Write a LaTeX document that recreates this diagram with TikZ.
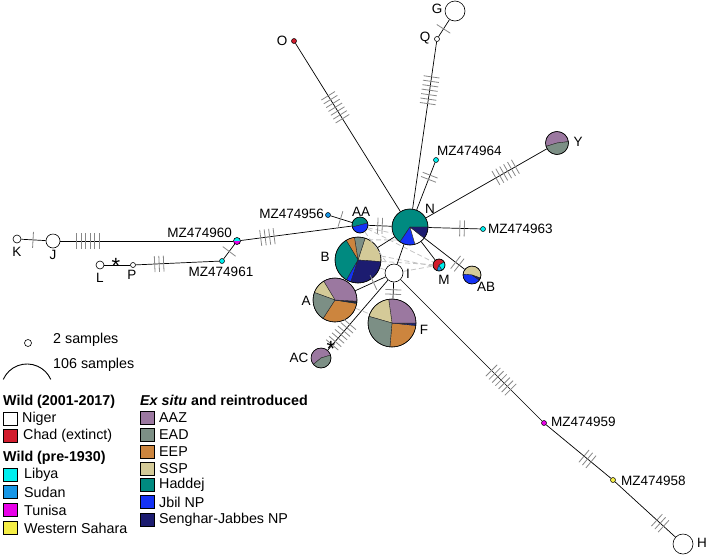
\documentclass[tikz,border=0pt]{standalone}
\usepackage{fontspec}
\setmainfont{Liberation Sans}
\usetikzlibrary{decorations.markings}
\definecolor{cAAZ}{RGB}{155,120,160}
\definecolor{cEAD}{RGB}{124,143,133}
\definecolor{cEEP}{RGB}{204,133,62}
\definecolor{cSSP}{RGB}{212,202,152}
\definecolor{cHad}{RGB}{0,138,128}
\definecolor{cJbil}{RGB}{20,50,245}
\definecolor{cSen}{RGB}{28,28,112}
\definecolor{cChad}{RGB}{210,28,45}
\definecolor{cLib}{RGB}{0,238,238}
\definecolor{cSud}{RGB}{22,150,230}
\definecolor{cTun}{RGB}{232,0,232}
\definecolor{cWS}{RGB}{245,238,70}
\definecolor{tickc}{RGB}{135,135,135}
\definecolor{retc}{RGB}{195,195,195}
\newcommand\hpie[3]{\foreach \a/\b/\c in {#3}{\filldraw[fill=\c, draw=black!85, line width=0.4pt, line join=round] (#1) -- ++({-(\a)}:#2) arc[start angle={-(\a)}, end angle={-(\b)}, radius=#2] -- cycle;}}
\begin{document}
\begin{tikzpicture}[x=1pt,y=-1pt,
 hap/.style={circle, draw=black, line width=0.6pt, inner sep=0pt, minimum size=#1},
 dot/.style={circle, draw=black, line width=0.5pt, inner sep=0pt, minimum size=5pt, fill=#1},
 lnk/.style={draw=black, line width=0.7pt},
 ret/.style={draw=retc, dash pattern=on 5pt off 3pt, line width=0.8pt},
 lbl/.style={font=\fontsize{13.5}{15}\selectfont, inner sep=0pt},
 leg/.style={font=\fontsize{14.3}{16}\selectfont, inner sep=0pt, anchor=west},
 ast/.style={font=\fontsize{22}{22}\selectfont, inner sep=0pt},
 hatch/.style 2 args={postaction={decorate, decoration={markings, mark=at position #1 with {\foreach \i in {1,...,#2}{\draw[tickc, line width=0.8pt, solid] ({(\i-(#2+1)/2)*4.5},-8) -- ({(\i-(#2+1)/2)*4.5},8);}}}}},
 legbox/.style={draw=black, line width=0.6pt, minimum width=14pt, minimum height=13pt, inner sep=0pt, fill=#1},
]
\useasboundingbox (0,0) rectangle (709,555);

% ---------- haplotypes ----------
\hpie{410,227}{18}{0/236/cHad,236/286/cJbil,286/322/white,322/360/cSen}
\node[hap=36pt] (N) at (410,227) {};
\hpie{358,260}{23}{-4/72/cSSP,72/99/cEAD,99/121/cEEP,121/240/cHad,240/252/cJbil,252/356/cSen}
\node[hap=46pt] (B) at (358,260) {};
\hpie{335,300}{22}{-123/-9/cEEP,-9/-7/cHad,-7/-5/cJbil,-5/-3/cSen,-3/121/cAAZ,121/160/cSSP,160/237/cEAD}
\node[hap=44pt] (A) at (335,300) {};
\hpie{392,323}{24}{-95/-6/cEEP,-6/-3/cJbil,-3/0/cSen,0/98/cAAZ,98/164/cSSP,164/265/cEAD}
\node[hap=48pt] (F) at (392,323) {};
\hpie{472,275}{9}{-20/175/cSSP,175/325/cJbil,325/340/cSen}
\node[hap=18pt] (AB) at (472,275) {};
\hpie{439,265}{6}{30/250/cChad,250/300/cSud,300/390/cLib}
\node[hap=12pt] (M) at (439,265) {};
\hpie{360,225}{8}{15/195/cHad,195/375/cJbil}
\node[hap=16pt] (AA) at (360,225) {};
\hpie{321,358}{10}{17/220/cAAZ,220/377/cEAD}
\node[hap=20pt] (AC) at (321,358) {};
\hpie{557,143}{11.5}{7/197/cAAZ,197/367/cEAD}
\node[hap=23pt] (Y) at (557,143) {};
\fill[cLib] (233.5,241) arc[start angle=180, end angle=360, radius=3.5] -- cycle;
\fill[cTun] (233.5,241) arc[start angle=180, end angle=0, radius=3.5] -- cycle;
\node[hap=7pt] (MZ60) at (237,241) {};

\node[hap=18pt, fill=white] (I) at (394,273) {};
\node[hap=14pt, fill=white] (J) at (53,241) {};
\node[hap=8pt, fill=white] (K) at (17,239) {};
\node[hap=8pt, fill=white] (L) at (100,265) {};
\node[hap=5pt, fill=white] (P) at (133,265) {};
\node[hap=5pt, fill=white] (Q) at (437,39) {};
\node[hap=20pt, fill=white] (G) at (455,11) {};
\node[hap=20pt, fill=white] (H) at (683,544) {};

\node[dot=cChad] (O) at (294,41) {};
\node[dot=cLib] (MZ64) at (436,160) {};
\node[dot=cLib] (MZ63) at (483,229) {};
\node[dot=cSud] (MZ56) at (328,215) {};
\node[dot=cLib] (MZ61) at (222,261) {};
\node[dot=cTun] (MZ59) at (544,423) {};
\node[dot=cWS] (MZ58) at (613,480) {};

% ---------- reticulations ----------
\draw[ret] (AA) -- (M);
\draw[ret] (B) -- (M);
\draw[ret] (I) -- (M);
\draw[ret] (AA) -- (I);
\draw[ret] (B.10) -- (M.190);
\draw[ret] (N.225) -- (B.60);
\draw[ret] (AA.-20) -- (N.200);
\draw[ret] (B) -- (I);
\draw[ret] (A) -- (B);
\draw[ret] (A) -- (F);

% ---------- links ----------
\draw[lnk, hatch={0.62}{7}] (N) -- (O);
\draw[lnk, hatch={0.71}{7}] (N) -- (Q);
\draw[lnk, hatch={0.46}{1}] (Q) -- (G);
\draw[lnk, hatch={0.69}{2}] (N) -- (MZ64);
\draw[lnk, hatch={0.66}{6}] (N) -- (Y);
\draw[lnk, hatch={0.65}{2}] (N) -- (MZ63);
\draw[lnk, hatch={0.82}{2}] (N) -- (AB);
\draw[lnk] (N) -- (M);
\draw[lnk] (N) -- (B);
\draw[lnk] (N) -- (I);
\draw[lnk, hatch={0.5}{2}] (AA) -- (N);
\draw[lnk, hatch={0.46}{1}] (MZ56) -- (AA);
\draw[lnk, hatch={0.24}{4}] (MZ60) -- (AA);
\draw[lnk, hatch={0.16}{6}] (J) -- (MZ60);
\draw[lnk, hatch={0.48}{1}] (K) -- (J);
\draw[lnk, hatch={0.5}{1}] (MZ60) -- (MZ61);
\draw[lnk, hatch={0.28}{3}] (P) -- (MZ61);
\draw[lnk] (L) -- (P);
\draw[lnk, hatch={0.59}{2}] (I) -- (F);
\draw[lnk, hatch={0.4}{1}] (I) -- (A);
\draw[lnk, hatch={0.78}{7}] (I) -- (AC);
\draw[lnk, hatch={0.71}{7}] (I) -- (MZ59);
\draw[lnk, hatch={0.64}{3}] (MZ59) -- (MZ58);
\draw[lnk, hatch={0.75}{3}] (MZ58) -- (H);

\node[ast] (ast1) at (116,266) {*};
\node[ast] (ast2) at (331,349) {*};

% ---------- labels ----------
\node[lbl] (tN) at (430,209) {N};
\node[lbl] (tAA) at (361,212) {AA};
\node[lbl] (tB) at (325,257) {B};
\node[lbl] (tI) at (408,274) {I};
\node[lbl] (tM) at (444,280) {M};
\node[lbl] (tAB) at (486,287) {AB};
\node[lbl] (tA) at (306,301) {A};
\node[lbl] (tF) at (424,330) {F};
\node[lbl] (tAC) at (299,358) {AC};
\node[lbl] (tY) at (578,142) {Y};
\node[lbl,anchor=west] (t63) at (488,229) {MZ474963};
\node[lbl,anchor=west] (t64) at (437,151) {MZ474964};
\node[lbl] (tO) at (282,41) {O};
\node[lbl] (tQ) at (425,38) {Q};
\node[lbl] (tG) at (437,9) {G};
\node[lbl,anchor=east] (t56) at (324,214) {MZ474956};
\node[lbl,anchor=east] (t60) at (232,233) {MZ474960};
\node[lbl] (t61) at (221,272) {MZ474961};
\node[lbl] (tK) at (17,252) {K};
\node[lbl] (tJ) at (53,255) {J};
\node[lbl] (tL) at (100,278) {L};
\node[lbl] (tP) at (132,275) {P};
\node[lbl] (tH) at (702,543) {H};
\node[lbl,anchor=west] (t59) at (551,422) {MZ474959};
\node[lbl,anchor=west] (t58) at (621,481) {MZ474958};

% ---------- legend ----------
\node[hap=7pt, fill=white] (lg2) at (28,343) {};
\node[leg] (lg2t) at (53,340) {2 samples};
\draw[line width=0.9pt] (3.25,379.4) arc[start angle=-156, end angle=-24, radius=26];
\node[leg] (lg106t) at (53,365) {106 samples};

\node[leg,font=\fontsize{14.3}{16}\selectfont\bfseries] (h1) at (3,402) {Wild (2001-2017)};
\node[legbox=white] (bNig) at (10,419) {};
\node[leg] (tNig) at (22,419) {Niger};
\node[legbox=cChad] (bChad) at (10,436) {};
\node[leg] (tChad) at (23,436) {Chad (extinct)};
\node[leg,font=\fontsize{14.3}{16}\selectfont\bfseries] (h2) at (3,458) {Wild (pre-1930)};
\node[legbox=cLib] (bLib) at (10,475) {};
\node[leg] (tLib) at (24,475) {Libya};
\node[legbox=cSud] (bSud) at (10,492) {};
\node[leg] (tSud) at (24,492) {Sudan};
\node[legbox=cTun] (bTun) at (10,510) {};
\node[leg] (tTun) at (24,510) {Tunisa};
\node[legbox=cWS] (bWS) at (10,528) {};
\node[leg] (tWS) at (24,528) {Western Sahara};

\node[leg,font=\fontsize{14.3}{16}\selectfont\bfseries] (h3) at (140,400) {\textit{Ex situ} and reintroduced};
\node[legbox=cAAZ] (bAAZ) at (147.5,418) {};
\node[leg] (tAAZ) at (159,418) {AAZ};
\node[legbox=cEAD] (bEAD) at (147.5,435) {};
\node[leg] (tEAD) at (159,435) {EAD};
\node[legbox=cEEP] (bEEP) at (147.5,452) {};
\node[leg] (tEEP) at (159,452) {EEP};
\node[legbox=cSSP] (bSSP) at (147.5,468.5) {};
\node[leg] (tSSP) at (159,468.5) {SSP};
\node[legbox=cHad] (bHad) at (147.5,485) {};
\node[leg] (tHad) at (159,485) {Haddej};
\node[legbox=cJbil] (bJbil) at (147.5,502) {};
\node[leg] (tJbil) at (159,502) {Jbil NP};
\node[legbox=cSen] (bSen) at (147.5,520) {};
\node[leg] (tSen) at (159,520) {Senghar-Jabbes NP};
\end{tikzpicture}
\end{document}
